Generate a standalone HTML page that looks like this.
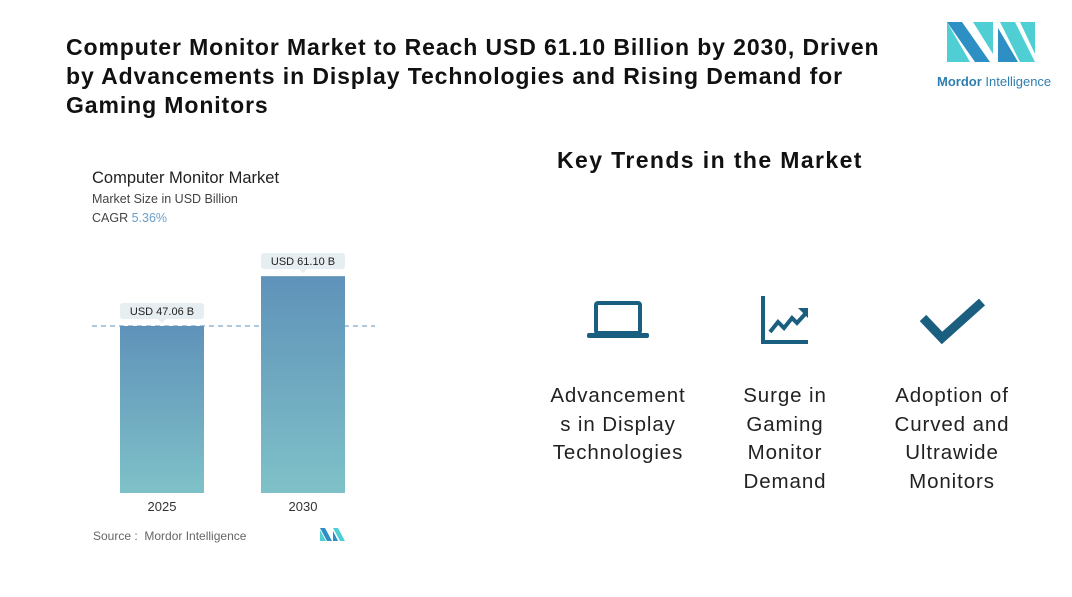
<!DOCTYPE html>
<html><head><meta charset="utf-8"><style>
body{margin:0;width:1072px;height:597px;background:#fff;font-family:"Liberation Sans",sans-serif;position:relative;overflow:hidden}
.t{position:absolute}
.title{left:66px;top:33px;width:845px;font-weight:bold;font-size:23px;letter-spacing:0.9px;line-height:29px;color:#111}
.kt{left:557px;top:147px;font-weight:bold;font-size:23px;letter-spacing:1.4px;color:#111}
.lab{position:absolute;text-align:center;font-size:20.5px;letter-spacing:0.9px;line-height:28.5px;color:#222}
</style></head><body>
<div class="t title">Computer Monitor Market to Reach USD 61.10 Billion by 2030, Driven by Advancements in Display Technologies and Rising Demand for Gaming Monitors</div>
<svg class="t" style="left:935px;top:18px" width="120" height="75">
<polygon points="12,4 27,4 55,44 40,44" fill="#2d8fc4"/><polygon points="12,4 12,44 35,44" fill="#4fcfd3"/>
<polygon points="38,4 58,4 58,36" fill="#4fcfd3"/><polygon points="65,4 80,4 100,44 85,44" fill="#4fcfd3"/>
<polygon points="63,10 63,44 83,44" fill="#2d8fc4"/><polygon points="85,4 100,4 100,36" fill="#4fcfd3"/>
<text x="2" y="68" font-size="13" fill="#2d7fb0" font-family="Liberation Sans"><tspan font-weight="bold">Mordor</tspan> Intelligence</text>
</svg>
<div class="t" style="left:92px;top:169px;font-size:16.5px;color:#222">Computer Monitor Market</div>
<div class="t" style="left:92px;top:192px;font-size:12.5px;color:#444">Market Size in USD Billion</div>
<div class="t" style="left:92px;top:211px;font-size:12.5px;color:#444">CAGR <span style="color:#6a9ec8">5.36%</span></div>
<svg id="chart" class="t" style="left:0;top:0" width="400" height="597"></svg>
<div class="t" style="left:93px;top:529px;font-size:12px;color:#666">Source :&nbsp; Mordor Intelligence</div>
<svg class="t" style="left:320px;top:528px" width="26" height="14"><polygon points="0,0 5,0 12,13 7,13" fill="#2d8fc4"/><polygon points="0,2 0,13 6,13" fill="#4fcfd3"/><polygon points="13,0 18,0 25,13 20,13" fill="#4fcfd3"/><polygon points="13,3 13,13 18,13" fill="#2d8fc4"/></svg>
<div class="t kt">Key Trends in the Market</div>
<svg class="t" style="left:586px;top:300px" width="64" height="40"><rect x="10" y="3" width="44" height="30" rx="2" fill="none" stroke="#1a5e80" stroke-width="4"/><rect x="1" y="33" width="62" height="5" rx="2" fill="#1a5e80"/></svg>
<svg class="t" style="left:760px;top:296px" width="50" height="48"><path d="M3,0 V46 H48" fill="none" stroke="#1a5e80" stroke-width="4"/><path d="M10,36 L18,26 L24,32 L32,22 L37,27 L46,17" fill="none" stroke="#1a5e80" stroke-width="4"/><polygon points="38,12 48,12 48,22" fill="#1a5e80"/></svg>
<svg class="t" style="left:920px;top:296px" width="66" height="50"><path d="M3,22 L22,42 L62,6" fill="none" stroke="#1a5e80" stroke-width="9"/></svg>
<div class="lab" style="left:528px;top:382px;width:180px">Advancement<br>s in Display<br>Technologies</div>
<div class="lab" style="left:710px;top:382px;width:150px">Surge in<br>Gaming<br>Monitor<br>Demand</div>
<div class="lab" style="left:862px;top:382px;width:180px">Adoption of<br>Curved and<br>Ultrawide<br>Monitors</div>
<script>
const categories=["2025","2030"];
const values=[47.06,61.10];
const valueLabels=["USD 47.06 B","USD 61.10 B"];
const svg=document.getElementById('chart');const NS='http://www.w3.org/2000/svg';
const base=493,k=167/47.06;
function y(v){return base-v*k;}
function xb(i){return 120+i*141;}
const defs=document.createElementNS(NS,'defs');
defs.innerHTML='<linearGradient id="g" x1="0" y1="0" x2="0" y2="1"><stop offset="0" stop-color="#5f92b9"/><stop offset="1" stop-color="#7fc1c8"/></linearGradient>';
svg.appendChild(defs);
function mk(t,a){const e=document.createElementNS(NS,t);for(const q in a)e.setAttribute(q,a[q]);svg.appendChild(e);return e;}
const dl=mk('line',{x1:92,x2:375,y1:y(values[0]),y2:y(values[0]),stroke:'#7fa6c8','stroke-dasharray':'5,4','stroke-width':1.2});


values.forEach((v,i)=>{
const x=xb(i);
const r=mk('rect',{x:x,y:y(v),width:84,height:base-y(v),fill:'url(#g)'});


const b=mk('rect',{x:x,y:y(v)-23,width:84,height:16,rx:3,fill:'#e6eef1'});


mk('polygon',{points:`${x+38},${y(v)-7} ${x+46},${y(v)-7} ${x+42},${y(v)-3}`,fill:'#e6eef1'});
const t=mk('text',{x:x+42,y:y(v)-11,'text-anchor':'middle','font-size':11,fill:'#222'});t.textContent=valueLabels[i];


const c=mk('text',{x:x+42,y:511,'text-anchor':'middle','font-size':13,fill:'#333'});c.textContent=categories[i];


});
</script>
</body></html>
